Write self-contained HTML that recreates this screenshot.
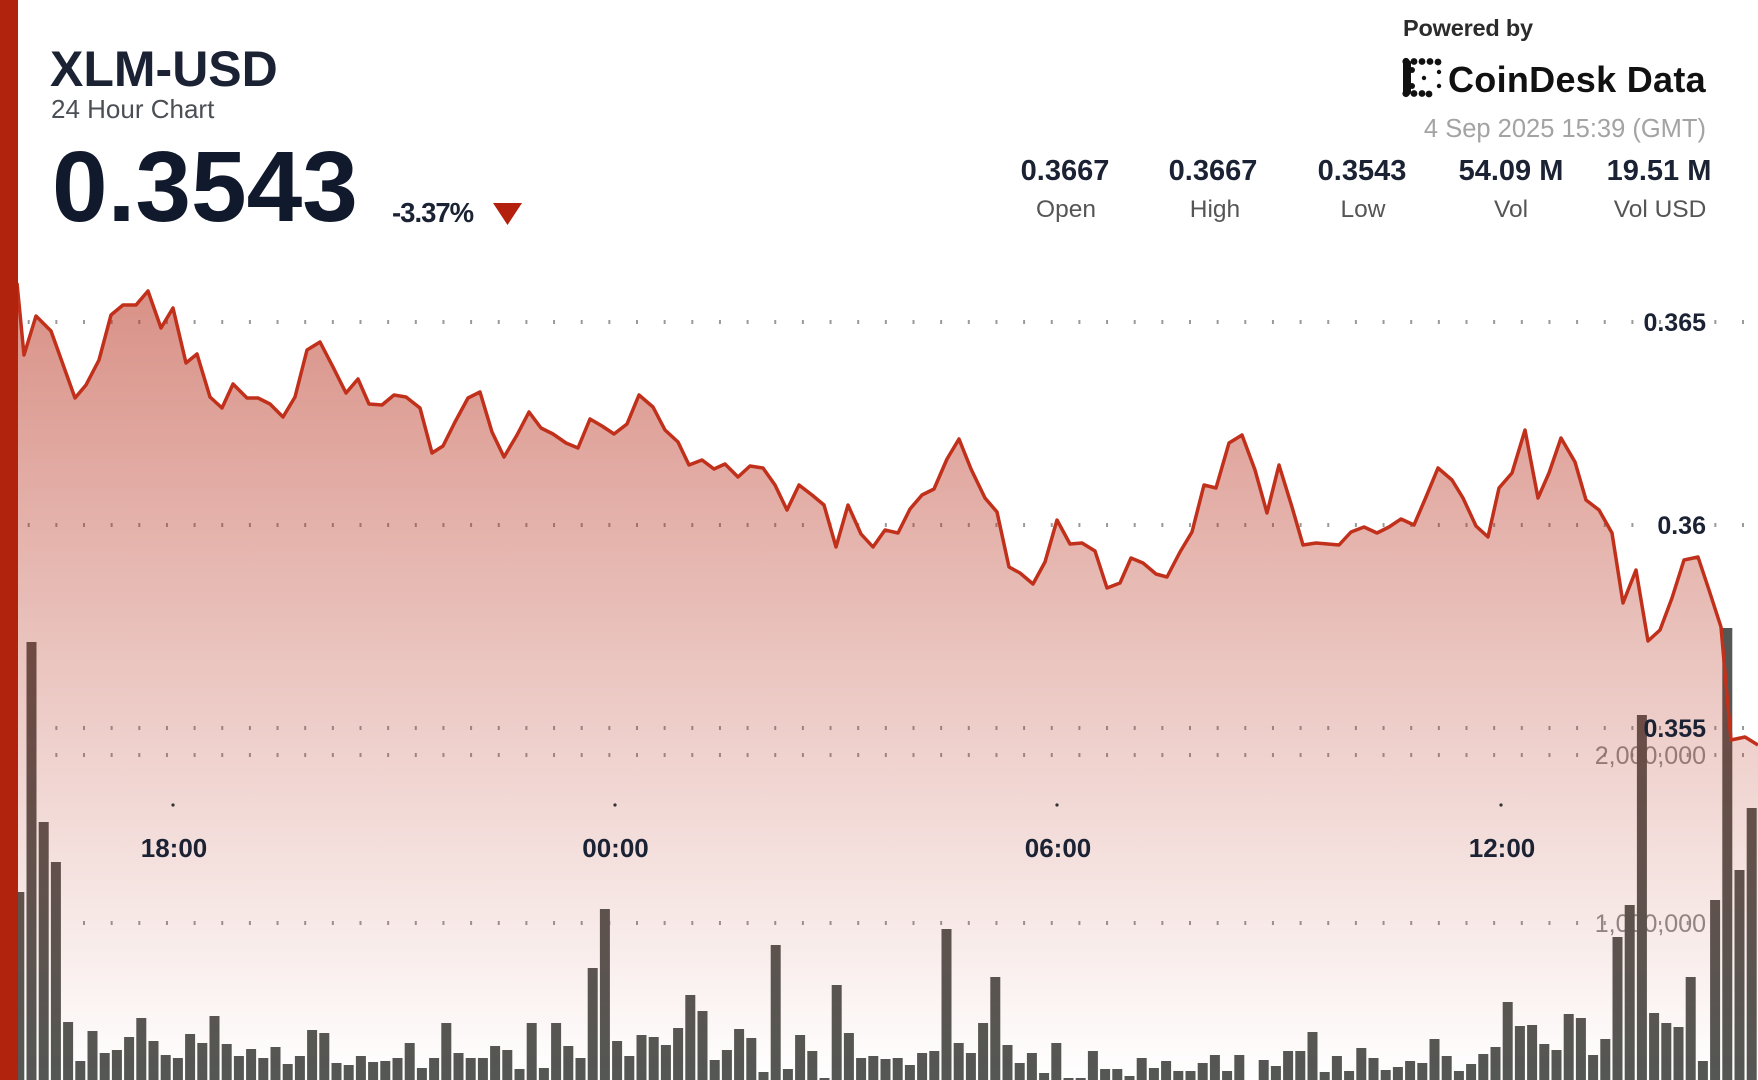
<!DOCTYPE html>
<html><head><meta charset="utf-8"><style>
html,body{margin:0;padding:0;background:#fff;}
body{width:1758px;height:1080px;overflow:hidden;}
svg{display:block;font-family:"Liberation Sans",Arial,sans-serif;}
</style></head><body>
<svg width="1758" height="1080" viewBox="0 0 1758 1080" xmlns="http://www.w3.org/2000/svg">
<defs>
<linearGradient id="fg" gradientUnits="userSpaceOnUse" x1="0" y1="260" x2="0" y2="1080">
<stop offset="0" stop-color="#b42814" stop-opacity="0.53"/>
<stop offset="1" stop-color="#b42814" stop-opacity="0"/>
</linearGradient>
</defs>
<rect width="1758" height="1080" fill="#fff"/>
<!-- grid dots -->
<g stroke="#9a9a9a" stroke-width="4" stroke-dasharray="2 25.65">
<line x1="27.7" y1="322" x2="1745" y2="322"/>
<line x1="27.7" y1="525" x2="1745" y2="525"/>
<line x1="27.7" y1="728" x2="1745" y2="728"/>
<line x1="27.7" y1="755" x2="1745" y2="755"/>
<line x1="27.7" y1="923" x2="1745" y2="923"/>
</g>
<!-- volume labels -->
<g font-size="25" fill="#7a7a7a" fill-opacity="0.85" text-anchor="end">
<text x="1706" y="764">2,000,000</text>
<text x="1706" y="932">1,000,000</text>
</g>
<!-- volume bars -->
<path fill="#545754" d="M14.3 892h10V1080h-10z M26.5 642h10V1080h-10z M38.7 822h10V1080h-10z M50.9 862h10V1080h-10z M63.1 1022h10V1080h-10z M75.3 1061h10V1080h-10z M87.5 1031h10V1080h-10z M99.7 1053h10V1080h-10z M111.9 1050h10V1080h-10z M124.1 1037h10V1080h-10z M136.3 1018h10V1080h-10z M148.5 1041h10V1080h-10z M160.7 1055h10V1080h-10z M172.9 1058h10V1080h-10z M185.1 1034h10V1080h-10z M197.3 1043h10V1080h-10z M209.5 1016h10V1080h-10z M221.7 1044h10V1080h-10z M233.9 1056h10V1080h-10z M246.1 1049h10V1080h-10z M258.3 1058h10V1080h-10z M270.5 1047h10V1080h-10z M282.7 1064h10V1080h-10z M294.9 1056h10V1080h-10z M307.1 1030h10V1080h-10z M319.3 1033h10V1080h-10z M331.5 1063h10V1080h-10z M343.7 1065h10V1080h-10z M355.9 1056h10V1080h-10z M368.1 1062h10V1080h-10z M380.3 1061h10V1080h-10z M392.5 1058h10V1080h-10z M404.7 1043h10V1080h-10z M416.9 1068h10V1080h-10z M429.1 1058h10V1080h-10z M441.3 1023h10V1080h-10z M453.5 1053h10V1080h-10z M465.7 1058h10V1080h-10z M477.9 1058h10V1080h-10z M490.1 1046h10V1080h-10z M502.3 1050h10V1080h-10z M514.5 1069h10V1080h-10z M526.7 1023h10V1080h-10z M538.9 1068h10V1080h-10z M551.1 1023h10V1080h-10z M563.3 1046h10V1080h-10z M575.5 1058h10V1080h-10z M587.7 968h10V1080h-10z M599.9 909h10V1080h-10z M612.1 1041h10V1080h-10z M624.3 1056h10V1080h-10z M636.5 1035h10V1080h-10z M648.7 1037h10V1080h-10z M660.9 1045h10V1080h-10z M673.1 1028h10V1080h-10z M685.3 995h10V1080h-10z M697.5 1011h10V1080h-10z M709.7 1060h10V1080h-10z M721.9 1050h10V1080h-10z M734.1 1029h10V1080h-10z M746.3 1038h10V1080h-10z M758.5 1072h10V1080h-10z M770.7 945h10V1080h-10z M782.9 1069h10V1080h-10z M795.1 1035h10V1080h-10z M807.3 1051h10V1080h-10z M819.5 1078h10V1080h-10z M831.7 985h10V1080h-10z M843.9 1033h10V1080h-10z M856.1 1058h10V1080h-10z M868.3 1056h10V1080h-10z M880.5 1059h10V1080h-10z M892.7 1058h10V1080h-10z M904.9 1065h10V1080h-10z M917.1 1053h10V1080h-10z M929.3 1051h10V1080h-10z M941.5 929h10V1080h-10z M953.7 1043h10V1080h-10z M965.9 1053h10V1080h-10z M978.1 1023h10V1080h-10z M990.3 977h10V1080h-10z M1002.5 1045h10V1080h-10z M1014.7 1063h10V1080h-10z M1026.9 1053h10V1080h-10z M1039.1 1073h10V1080h-10z M1051.3 1043h10V1080h-10z M1063.5 1078h10V1080h-10z M1075.7 1078h10V1080h-10z M1087.9 1051h10V1080h-10z M1100.1 1069h10V1080h-10z M1112.3 1069h10V1080h-10z M1124.5 1076h10V1080h-10z M1136.7 1058h10V1080h-10z M1148.9 1068h10V1080h-10z M1161.1 1061h10V1080h-10z M1173.3 1071h10V1080h-10z M1185.5 1071h10V1080h-10z M1197.7 1063h10V1080h-10z M1209.9 1055h10V1080h-10z M1222.1 1071h10V1080h-10z M1234.3 1055h10V1080h-10z M1258.7 1060h10V1080h-10z M1270.9 1066h10V1080h-10z M1283.1 1051h10V1080h-10z M1295.3 1051h10V1080h-10z M1307.5 1032h10V1080h-10z M1319.7 1072h10V1080h-10z M1331.9 1056h10V1080h-10z M1344.1 1071h10V1080h-10z M1356.3 1048h10V1080h-10z M1368.5 1058h10V1080h-10z M1380.7 1070h10V1080h-10z M1392.9 1067h10V1080h-10z M1405.1 1061h10V1080h-10z M1417.3 1063h10V1080h-10z M1429.5 1039h10V1080h-10z M1441.7 1056h10V1080h-10z M1453.9 1071h10V1080h-10z M1466.1 1064h10V1080h-10z M1478.3 1054h10V1080h-10z M1490.5 1047h10V1080h-10z M1502.7 1002h10V1080h-10z M1514.9 1026h10V1080h-10z M1527.1 1025h10V1080h-10z M1539.3 1044h10V1080h-10z M1551.5 1050h10V1080h-10z M1563.7 1014h10V1080h-10z M1575.9 1018h10V1080h-10z M1588.1 1055h10V1080h-10z M1600.3 1039h10V1080h-10z M1612.5 937h10V1080h-10z M1624.7 905h10V1080h-10z M1636.9 715h10V1080h-10z M1649.1 1013h10V1080h-10z M1661.3 1023h10V1080h-10z M1673.5 1027h10V1080h-10z M1685.7 977h10V1080h-10z M1697.9 1061h10V1080h-10z M1710.1 900h10V1080h-10z M1722.3 628h10V1080h-10z M1734.5 870h10V1080h-10z M1746.7 808h10V1080h-10z"/>
<!-- area fill -->
<path fill="url(#fg)" d="M17,1080 L17,283 24,355 36,316 51,331 75,398 86,385 99,360 111,315 123,305 136,305 148,291 161,328 173,308 186,363 197,354 210,397 222,408 233,384 247,398 258,398 270,404 283,417 295,397 307,350 320,342 333,367 346,393 358,379 369,404 382,405 394,395 406,397 420,408 432,453 443,446 455,422 468,398 480,392 492,432 504,457 517,435 529,412 541,428 553,434 566,443 578,448 590,419 602,426 614,434 627,424 639,395 653,407 665,430 678,442 689,465 702,460 714,469 725,464 738,477 750,466 763,468 775,485 787,510 799,485 812,495 824,505 836,547 848,505 861,534 873,547 885,530 898,533 910,509 922,495 934,489 947,459 959,439 971,469 985,498 997,512 1009,567 1020,573 1033,584 1045,562 1057,520 1070,544 1082,543 1095,551 1107,588 1120,583 1131,558 1143,563 1156,574 1167,577 1180,552 1192,532 1204,485 1216,488 1229,443 1242,435 1255,470 1267,513 1279,465 1292,507 1303,545 1316,543 1328,544 1339,545 1351,532 1364,527 1377,533 1389,527 1401,519 1414,525 1426,497 1438,468 1452,480 1463,498 1476,526 1488,537 1499,488 1512,473 1525,430 1538,498 1549,473 1561,438 1575,462 1586,500 1599,510 1612,533 1623,603 1636,570 1648,641 1660,630 1672,598 1684,560 1698,557 1709,590 1721,627 1731,740 1745,737 1758,745 L1758,1080 Z"/>
<!-- price line -->
<polyline fill="none" stroke="#c1301b" stroke-width="3.5" stroke-linejoin="round" points="17,283 24,355 36,316 51,331 75,398 86,385 99,360 111,315 123,305 136,305 148,291 161,328 173,308 186,363 197,354 210,397 222,408 233,384 247,398 258,398 270,404 283,417 295,397 307,350 320,342 333,367 346,393 358,379 369,404 382,405 394,395 406,397 420,408 432,453 443,446 455,422 468,398 480,392 492,432 504,457 517,435 529,412 541,428 553,434 566,443 578,448 590,419 602,426 614,434 627,424 639,395 653,407 665,430 678,442 689,465 702,460 714,469 725,464 738,477 750,466 763,468 775,485 787,510 799,485 812,495 824,505 836,547 848,505 861,534 873,547 885,530 898,533 910,509 922,495 934,489 947,459 959,439 971,469 985,498 997,512 1009,567 1020,573 1033,584 1045,562 1057,520 1070,544 1082,543 1095,551 1107,588 1120,583 1131,558 1143,563 1156,574 1167,577 1180,552 1192,532 1204,485 1216,488 1229,443 1242,435 1255,470 1267,513 1279,465 1292,507 1303,545 1316,543 1328,544 1339,545 1351,532 1364,527 1377,533 1389,527 1401,519 1414,525 1426,497 1438,468 1452,480 1463,498 1476,526 1488,537 1499,488 1512,473 1525,430 1538,498 1549,473 1561,438 1575,462 1586,500 1599,510 1612,533 1623,603 1636,570 1648,641 1660,630 1672,598 1684,560 1698,557 1709,590 1721,627 1731,740 1745,737 1758,745"/>
<!-- left red bar -->
<rect x="0" y="0" width="18" height="1080" fill="#b1230c"/>
<!-- price axis labels -->
<g font-size="25" font-weight="bold" fill="#1a2233" text-anchor="end">
<text x="1706" y="331">0.365</text>
<text x="1706" y="534">0.36</text>
<text x="1706" y="737">0.355</text>
</g>
<!-- x axis -->
<g fill="#333">
<circle cx="173" cy="805" r="1.6"/><circle cx="615" cy="805" r="1.6"/><circle cx="1057" cy="805" r="1.6"/><circle cx="1501" cy="805" r="1.6"/>
</g>
<g font-size="26" font-weight="bold" fill="#1a2233" text-anchor="middle">
<text x="174" y="857">18:00</text>
<text x="615.5" y="857">00:00</text>
<text x="1058" y="857">06:00</text>
<text x="1502" y="857">12:00</text>
</g>
<!-- header left -->
<text x="50" y="86" font-size="50" font-weight="bold" fill="#1a2233">XLM-USD</text>
<text x="51" y="118" font-size="26" fill="#4a4f55">24 Hour Chart</text>
<text x="52" y="221" font-size="100" font-weight="bold" fill="#111a2c">0.3543</text>
<text x="392" y="222" font-size="27.5" font-weight="bold" fill="#1a2233" letter-spacing="-1">-3.37%</text>
<polygon points="493,203 522,203 507.5,225" fill="#b3200d"/>
<!-- header right -->
<text x="1403" y="36" font-size="23.5" font-weight="bold" fill="#2b2b2b" letter-spacing="-0.2">Powered by</text>
<g fill="#111">
<rect x="1403" y="60" width="8" height="35" rx="3"/>
<circle cx="1406" cy="61.5" r="3.6"/><circle cx="1414" cy="61.5" r="3.4"/><circle cx="1422" cy="61.5" r="3.4"/><circle cx="1430" cy="61.5" r="3.4"/><circle cx="1438" cy="62" r="3.4"/>
<circle cx="1406" cy="93.5" r="3.6"/><circle cx="1414" cy="93.5" r="3.4"/><circle cx="1422" cy="93.5" r="3.4"/><circle cx="1429" cy="94" r="3.4"/>
<circle cx="1412" cy="70" r="3"/><circle cx="1412" cy="86" r="3"/>
<circle cx="1424" cy="78" r="2.2"/><circle cx="1439" cy="72" r="2.2"/><circle cx="1439" cy="86" r="2.2"/>
</g>
<text x="1448" y="92" font-size="36" font-weight="bold" fill="#111" letter-spacing="0.3">CoinDesk Data</text>
<text x="1706" y="137" font-size="25.5" fill="#a3a3a3" text-anchor="end">4 Sep 2025 15:39 (GMT)</text>
<g font-size="29" font-weight="bold" fill="#1a2233" text-anchor="middle">
<text x="1065" y="180">0.3667</text>
<text x="1213" y="180">0.3667</text>
<text x="1362" y="180">0.3543</text>
<text x="1511" y="180">54.09 M</text>
<text x="1659" y="180">19.51 M</text>
</g>
<g font-size="24.5" fill="#555" text-anchor="middle">
<text x="1066" y="217">Open</text>
<text x="1215" y="217">High</text>
<text x="1363" y="217">Low</text>
<text x="1511" y="217">Vol</text>
<text x="1660" y="217">Vol USD</text>
</g>
</svg>
</body></html>
